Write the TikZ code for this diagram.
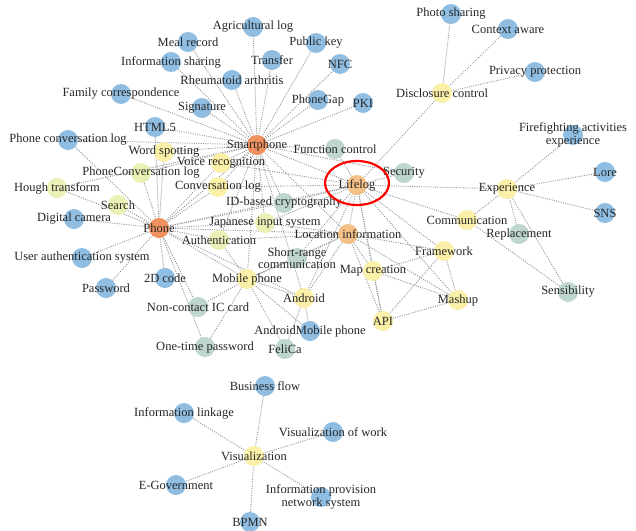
\documentclass[tikz,border=0pt]{standalone}
\usepackage{fontspec}
\setmainfont{Liberation Serif}
\pgfdeclarelayer{background}
\pgfdeclarelayer{fg}
\pgfsetlayers{background,main,fg}
\definecolor{cblue}{RGB}{143,190,226}
\definecolor{corange}{RGB}{240,145,95}
\definecolor{clorange}{RGB}{244,192,135}
\definecolor{cyellow}{RGB}{250,240,168}
\definecolor{cygreen}{RGB}{234,240,182}
\definecolor{cteal}{RGB}{190,214,204}
\definecolor{cedge}{RGB}{150,150,150}
\newcommand\gnode[5]{%
  \node[gc,fill=#2] (#1) at (#3,#4) {};
  \begin{pgfonlayer}{fg}\node[lbl] at (#1) {#5};\end{pgfonlayer}}
\newcommand\gedges[2]{%
  \foreach \tgt in {#2} {%
    \begin{pgfonlayer}{background}\draw[gedge] (#1.center) -- (\tgt.center);\end{pgfonlayer}}}
\begin{document}
\begin{tikzpicture}[x=1pt,y=-1pt,
  gc/.style={circle,draw=none,minimum size=20pt,inner sep=0pt},
  lbl/.style={font=\fontsize{12.5}{12.5}\selectfont,text=black!85,inner sep=0pt,align=center},
  gedge/.style={draw=cedge,line width=0.9pt,dash pattern=on 1pt off 1.3pt}]
\begin{pgfonlayer}{background}
\fill[white] (0,0) rectangle (636,530);
\end{pgfonlayer}
\useasboundingbox (0,0) rectangle (636,530);
% nodes
\gnode{agri}{cblue}{253}{27}{Agricultural log}
\gnode{meal}{cblue}{188}{42}{Meal record}
\gnode{pubkey}{cblue}{316}{43}{Public key}
\gnode{infoshare}{cblue}{171}{62}{Information sharing}
\gnode{transfer}{cblue}{272}{60}{Transfer}
\gnode{nfc}{cblue}{340}{64}{NFC}
\gnode{rheuma}{cblue}{232}{80}{Rheumatoid arthritis}
\gnode{family}{cblue}{121}{94}{Family correspondence}
\gnode{signature}{cblue}{202}{108}{Signature}
\gnode{phonegap}{cblue}{318}{100}{PhoneGap}
\gnode{pki}{cblue}{363}{103}{PKI}
\gnode{html5}{cblue}{155}{127}{HTML5}
\gnode{phoneconv}{cblue}{68}{140}{Phone conversation log}
\gnode{smartphone}{corange}{257}{145}{Smartphone}
\gnode{funcctrl}{cteal}{335}{149}{Function control}
\gnode{wordspot}{cyellow}{164}{152}{Word spotting}
\gnode{voicerec}{cyellow}{221}{163}{Voice recognition}
\gnode{pconvlog}{cygreen}{141}{173}{PhoneConversation log}
\gnode{security}{cteal}{404}{173}{Security}
\gnode{lifelog}{clorange}{357}{185}{Lifelog}
\gnode{hough}{cygreen}{57}{188}{Hough transform}
\gnode{convlog}{cyellow}{218}{187}{Conversation log}
\gnode{experience}{cyellow}{507}{189}{Experience}
\gnode{fire}{cblue}{573}{135}{Firefighting activities\\experience}
\gnode{lore}{cblue}{605}{172}{Lore}
\gnode{sns}{cblue}{605}{213}{SNS}
\gnode{search}{cygreen}{118}{205}{Search}
\gnode{idcrypto}{cteal}{284}{203}{ID-based cryptography}
\gnode{digicam}{cblue}{74}{219}{Digital camera}
\gnode{communication}{cyellow}{467}{220}{Communication}
\gnode{replacement}{cteal}{519}{234}{Replacement}
\gnode{phone}{corange}{159}{228}{Phone}
\gnode{japanese}{cygreen}{265}{223}{Japanese input system}
\gnode{location}{clorange}{348}{234}{Location information}
\gnode{auth}{cygreen}{219}{240}{Authentication}
\gnode{framework}{cyellow}{444}{251}{Framework}
\gnode{shortrange}{cteal}{297}{258}{Short-range\\communication}
\gnode{userauth}{cblue}{82}{258}{User authentication system}
\gnode{mapcreation}{cyellow}{373}{271}{Map creation}
\gnode{mobilephone}{cyellow}{247}{279}{Mobile phone}
\gnode{code2d}{cblue}{165}{278}{2D code}
\gnode{password}{cblue}{106}{288}{Password}
\gnode{sensibility}{cteal}{568}{292}{Sensibility}
\gnode{android}{cyellow}{304}{298}{Android}
\gnode{mashup}{cyellow}{458}{300}{Mashup}
\gnode{noncontact}{cteal}{198}{307}{Non-contact IC card}
\gnode{api}{cyellow}{383}{321}{API}
\gnode{androidmobile}{cblue}{310}{331}{AndroidMobile phone}
\gnode{onetime}{cteal}{205}{347}{One-time password}
\gnode{felica}{cteal}{285}{349}{FeliCa}
\gnode{disclosure}{cyellow}{442}{93}{Disclosure control}
\gnode{photo}{cblue}{451}{14}{Photo sharing}
\gnode{context}{cblue}{508}{29}{Context aware}
\gnode{privacy}{cblue}{535}{72}{Privacy protection}
\gnode{business}{cblue}{265}{386}{Business flow}
\gnode{infolink}{cblue}{184}{413}{Information linkage}
\gnode{viswork}{cblue}{333}{432}{Visualization of work}
\gnode{visualization}{cyellow}{254}{456}{Visualization}
\gnode{egov}{cblue}{176}{485}{E-Government}
\gnode{infoprov}{cblue}{321}{497}{Information provision\\network system}
\gnode{bpmn}{cblue}{250}{522}{BPMN}
% edges
\gedges{smartphone}{agri,meal,pubkey,infoshare,transfer,nfc,rheuma,family,signature,phonegap,pki,html5,phoneconv,funcctrl,wordspot,voicerec,pconvlog,convlog,idcrypto,lifelog,japanese,auth,location,mobilephone,phone,hough,android,security}
\gedges{phone}{phoneconv,wordspot,pconvlog,hough,search,digicam,userauth,password,code2d,noncontact,onetime,mobilephone,auth,japanese,idcrypto,convlog,voicerec,lifelog,location,android,html5}
\gedges{lifelog}{funcctrl,security,disclosure,experience,communication,location,framework,mashup,mapcreation,convlog,voicerec,idcrypto,japanese,android,api,shortrange}
\gedges{location}{mapcreation,api,mashup,framework,android,shortrange,mobilephone,japanese,auth}
\gedges{experience}{fire,lore,sns,communication,replacement,sensibility}
\gedges{communication}{sensibility}
\gedges{framework}{api,mashup,mapcreation}
\gedges{mashup}{api,mapcreation}
\gedges{api}{mapcreation}
\gedges{android}{androidmobile,mobilephone,felica}
\gedges{mobilephone}{felica,onetime,noncontact,androidmobile,shortrange,auth}
\gedges{disclosure}{photo,context,privacy}
\gedges{visualization}{business,infolink,viswork,egov,infoprov,bpmn}
% highlight
\begin{pgfonlayer}{fg}
\draw[red,line width=2.2pt] (lifelog.center) ++(0,-2) ellipse[x radius=32,y radius=22];
\end{pgfonlayer}
\end{tikzpicture}
\end{document}
